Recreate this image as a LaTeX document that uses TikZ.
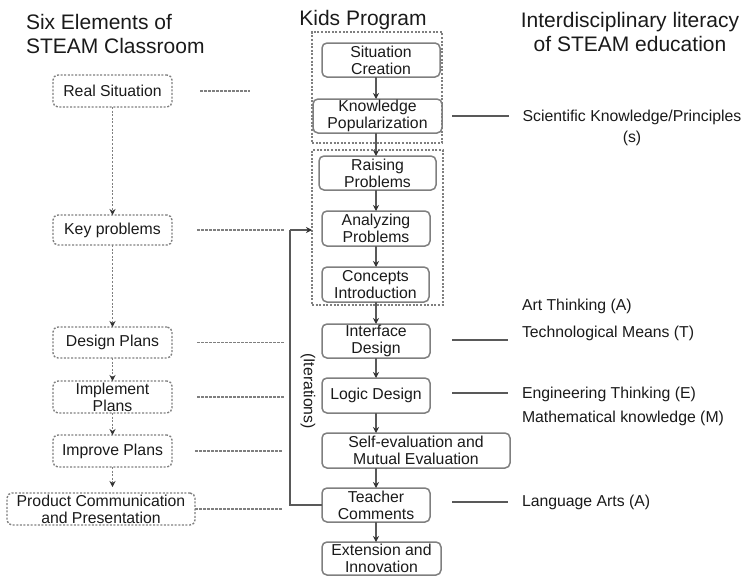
\documentclass[tikz,border=0pt]{standalone}
\usepackage{fontspec}
\setmainfont{Liberation Sans}
\usetikzlibrary{arrows.meta,calc}
\definecolor{ln}{HTML}{7F7F7F}
\definecolor{al}{HTML}{595959}
\definecolor{ah}{HTML}{333333}
\definecolor{tx}{HTML}{1A1A1A}
\begin{document}
\begin{tikzpicture}[x=1pt,y=-1pt,
  every node/.style={text=tx,inner sep=0pt,outer sep=0pt},
  box/.style={draw=ln,line width=1.5pt,rounded corners=5pt,align=center,
    font=\fontsize{15.8}{17}\selectfont},
  dbox/.style={draw=ln,line width=1.4pt,rounded corners=5pt,align=center,
    dash pattern=on 2pt off 1.6pt,font=\fontsize{15.8}{17}\selectfont},
  grp/.style={draw=ln,line width=1.3pt,dash pattern=on 2pt off 1.6pt},
  dline/.style={draw=ln,line width=1.2pt,dash pattern=on 2.5pt off 1.5pt},
  darrow/.style={draw=ln,line width=1.4pt,dash pattern=on 2pt off 1.6pt,
    -{Stealth[length=6pt,width=6pt,color=ah,fill=ah,sep=0pt]}},
  sarrow/.style={draw=al,line width=1.3pt,-{Stealth[length=6pt,width=6pt,color=ah,fill=ah]}},
  sline/.style={draw=al,line width=1.4pt},
  lbl/.style={font=\fontsize{15.8}{17}\selectfont,anchor=base west},
  hdr/.style={font=\fontsize{21}{23.5}\selectfont}
]
\useasboundingbox (0,0) rectangle (742,576);

% headers
\node[hdr,anchor=base west] (h1a) at (26,29) {Six Elements of};
\node[hdr,anchor=base west] (h1b) at (26,53) {STEAM Classroom};
\node[hdr,anchor=base] (h2) at (363,25) {Kids Program};
\node[hdr,anchor=base] (h3a) at (630,27) {Interdisciplinary literacy};
\node[hdr,anchor=base] (h3b) at (630,51) {of STEAM education};

% group boxes
\node[grp,minimum width=130pt,minimum height=111pt] (g1) at (377,87.5) {};
\node[grp,minimum width=131pt,minimum height=155pt] (g2) at (377.5,227.5) {};

% middle column
\node[box,minimum width=118pt,minimum height=34pt] (sc) at (381,60) {Situation\\Creation};
\node[box,minimum width=129pt,minimum height=34pt] (kp) at (377.5,116) {Knowledge\\Popularization};
\node[box,minimum width=117pt,minimum height=34pt] (rp) at (377.5,173) {Raising\\Problems};
\node[box,minimum width=108pt,minimum height=35pt] (ap) at (376,228.5) {Analyzing\\Problems};
\node[box,minimum width=107pt,minimum height=35pt] (ci) at (375.5,284.5) {Concepts\\Introduction};
\node[box,minimum width=108pt,minimum height=34pt] (id) at (376,341) {Interface\\Design};
\node[box,minimum width=108pt,minimum height=35pt] (ld) at (376,395.5) {Logic Design};
\node[box,minimum width=188pt,minimum height=35pt] (se) at (416,450.5) {Self-evaluation and\\Mutual Evaluation};
\node[box,minimum width=108pt,minimum height=34pt] (tc) at (376,505) {Teacher\\Comments};
\node[box,minimum width=119pt,minimum height=33pt] (ei) at (381.5,558.5) {Extension and\\Innovation};

% middle arrows (vertical at x=376)
\draw[sarrow] (sc.south -| 376,0) -- (kp.north -| 376,0);
\draw[sarrow] (kp.south -| 376,0) -- (rp.north -| 376,0);
\draw[sarrow] (rp.south -| 376,0) -- (ap.north -| 376,0);
\draw[sarrow] (ap.south -| 376,0) -- (ci.north -| 376,0);
\draw[sarrow] (ci.south -| 376,0) -- (id.north -| 376,0);
\draw[sarrow] (id.south -| 376,0) -- (ld.north -| 376,0);
\draw[sarrow] (ld.south -| 376,0) -- (se.north -| 376,0);
\draw[sarrow] (se.south -| 376,0) -- (tc.north -| 376,0);
\draw[sarrow] (tc.south -| 376,0) -- (ei.north -| 376,0);

% left column
\node[dbox,minimum width=119pt,minimum height=32pt] (rs) at (112.5,91) {Real Situation};
\node[dbox,minimum width=119pt,minimum height=30pt] (kb) at (112.5,230) {Key problems};
\node[dbox,minimum width=119pt,minimum height=31pt] (dp) at (112.5,342.5) {Design Plans};
\node[dbox,minimum width=119pt,minimum height=32pt] (ip) at (112.5,397) {Implement\\Plans};
\node[dbox,minimum width=119pt,minimum height=32pt] (mp) at (112.5,451) {Improve Plans};
\node[dbox,minimum width=188pt,minimum height=32pt] (pc) at (101,509) {Product Communication\\and Presentation};

\draw[darrow] (rs.south) -- (kb.north);
\draw[darrow] (kb.south) -- (dp.north);
\draw[darrow] (dp.south) -- (ip.north);
\draw[darrow] (ip.south) -- (mp.north);
\draw[darrow,shorten >=6pt] (mp.south) -- (pc.north -| mp.south);

% dashed connectors left -> middle
\coordinate (e1) at (250,91);
\coordinate (e2) at (285,230);
\coordinate (e3) at (285,342.5);
\coordinate (e4) at (284,397);
\coordinate (e5) at (283,451);
\coordinate (e6) at (283,509);
\draw[dline] ($(rs.east)+(28,0)$) -- (e1);
\draw[dline] ($(kb.east)+(25,0)$) -- (e2);
\draw[dline] ($(dp.east)+(25,0)$) -- (e3);
\draw[dline] ($(ip.east)+(25,0)$) -- (e4);
\draw[dline] ($(mp.east)+(23,0)$) -- (e5);
\draw[dline] (pc.east) -- (e6);

% iteration loop
\coordinate (it) at (290,230);
\draw[sline] (tc.west) -| (it);
\draw[sarrow] (it) -- (g2.west |- it);
\node[rotate=-90,font=\fontsize{15.8}{17}\selectfont] (itl) at (308,391) {(Iterations)};

% right connectors and labels
\coordinate (r1) at (509,116);
\coordinate (r2) at (508,340);
\coordinate (r3) at (508,393);
\coordinate (r4) at (508,502);
\draw[sline] ($(kp.east)+(10,0)$) -- (r1);
\draw[sline] (id.east |- r2) ++(22,0) -- (r2);
\draw[sline] (ld.east |- r3) ++(22,0) -- (r3);
\draw[sline] (tc.east |- r4) ++(22,0) -- (r4);

\node[font=\fontsize{15.8}{17}\selectfont,anchor=base] (l1) at (632,121.5) {Scientific Knowledge/Principles};
\node[font=\fontsize{15.8}{17}\selectfont,anchor=base] (l1b) at (632,142.5) {(s)};
\node[lbl] (l2) at (522,310.5) {Art Thinking (A)};
\node[lbl] (l3) at (522,337.5) {Technological Means (T)};
\node[lbl] (l4) at (522,398.5) {Engineering Thinking (E)};
\node[lbl] (l5) at (522,422.5) {Mathematical knowledge (M)};
\node[lbl] (l6) at (522,506.5) {Language Arts (A)};
\end{tikzpicture}
\end{document}
